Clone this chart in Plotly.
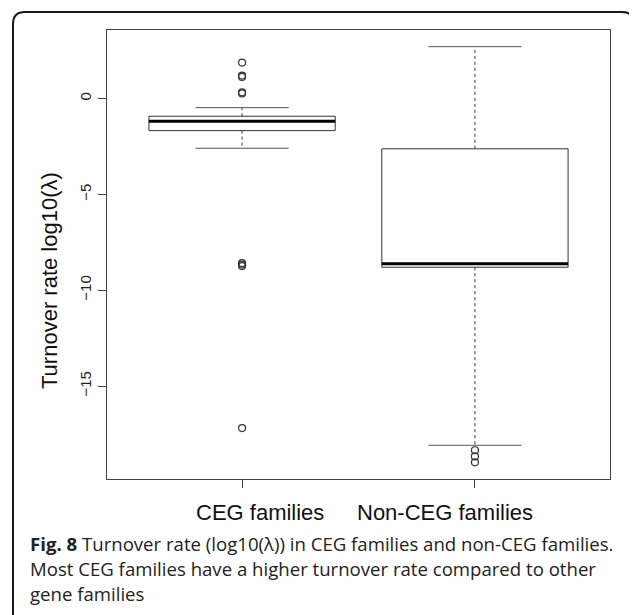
import plotly.graph_objects as go

# ---------------- data ----------------
categories = ["CEG families", "Non-CEG families"]
positions = [1, 2]
q1 = [-1.67, -8.80]
median = [-1.18, -8.62]
q3 = [-0.92, -2.62]
lower_whisker = [-2.59, -18.09]
upper_whisker = [-0.47, 2.71]
outliers_ceg = [1.88, 1.20, 1.13, 0.33, 0.27, -8.58, -8.66, -8.74, -17.19]
outliers_non = [-18.35, -18.67, -18.98]
y_ticks = [-15, -10, -5, 0]
y_tick_labels = ["\u221215", "\u221210", "\u22125", "0"]
y_title = "Turnover rate log10(\u03bb)"
caption_lines = [
    "<b>Fig. 8</b> Turnover rate (log10(\u03bb)) in CEG families and non-CEG families.",
    "Most CEG families have a higher turnover rate compared to other",
    "gene families",
]

# ---------------- layout constants ----------------
OFF = 8  # page body margin
W, H = 637 - OFF, 615 - OFF
ML, MT = 107 - OFF, 30 - OFF
MR = W - (610 - OFF)
MB = H - (479 - OFF)
PW, PH = W - ML - MR, H - MT - MB
BOX_HALF = 0.4
CAP_HALF = 0.2
LINE_COL = "#333333"


def px(xp):
    """reference-window pixel x -> paper fraction"""
    return (xp - OFF - ML) / PW


def py(yp):
    """reference-window pixel y -> paper fraction"""
    return (H - MB - (yp - OFF)) / PH


fig = go.Figure()

outliers = [outliers_ceg, outliers_non]
for i, c in enumerate(positions):
    # dashed whiskers
    for a, b in [(q3[i], upper_whisker[i]), (q1[i], lower_whisker[i])]:
        fig.add_trace(go.Scatter(x=[c, c], y=[a, b], mode="lines",
                                 line=dict(color=LINE_COL, width=1, dash="3px,3px"),
                                 hoverinfo="skip", showlegend=False))
    # caps
    for v in [upper_whisker[i], lower_whisker[i]]:
        fig.add_trace(go.Scatter(x=[c - CAP_HALF, c + CAP_HALF], y=[v, v], mode="lines",
                                 line=dict(color="#555555", width=1),
                                 hoverinfo="skip", showlegend=False))
    # box
    fig.add_trace(go.Scatter(x=[c - BOX_HALF, c + BOX_HALF, c + BOX_HALF, c - BOX_HALF, c - BOX_HALF],
                             y=[q1[i], q1[i], q3[i], q3[i], q1[i]], mode="lines",
                             fill="toself", fillcolor="white",
                             line=dict(color=LINE_COL, width=1),
                             hoverinfo="skip", showlegend=False))
    # median
    fig.add_trace(go.Scatter(x=[c - BOX_HALF, c + BOX_HALF], y=[median[i], median[i]], mode="lines",
                             line=dict(color="black", width=3),
                             hoverinfo="skip", showlegend=False))
    # outliers
    fig.add_trace(go.Scatter(x=[c] * len(outliers[i]), y=outliers[i], mode="markers",
                             marker=dict(symbol="circle-open", size=7, color=LINE_COL,
                                         line=dict(width=1.2, color=LINE_COL)),
                             hoverinfo="skip", showlegend=False))

axis_common = dict(showgrid=False, zeroline=False, showline=True, mirror=True,
                   linecolor="#444444", linewidth=1, ticks="outside", ticklen=8,
                   tickcolor="#444444", tickwidth=1)

fig.update_xaxes(range=[0.42, 2.58], tickvals=positions, ticktext=["", ""], **axis_common)
fig.update_yaxes(range=[-19.85, 3.58], tickvals=y_ticks, ticktext=y_tick_labels,
                 tickangle=-90, ticklabelstandoff=1,
                 tickfont=dict(family="Liberation Sans, Arial", size=15, color="#222222"),
                 **axis_common)

annotations = []
# category labels
for label, xc in zip(categories, [259.5, 444.5]):
    annotations.append(dict(text=label, xref="paper", yref="paper", x=px(xc), y=py(512.5),
                            xanchor="center", yanchor="middle", showarrow=False,
                            font=dict(family="Liberation Sans, Arial", size=22, color="#111111")))
# y title
annotations.append(dict(text=y_title, xref="paper", yref="paper", x=px(49), y=py(281),
                        xanchor="center", yanchor="middle", textangle=-90, showarrow=False,
                        font=dict(family="Liberation Sans, Arial", size=22, color="#111111")))
# caption
for line, yc in zip(caption_lines, [543, 568, 593]):
    annotations.append(dict(text=line, xref="paper", yref="paper", x=px(28), y=py(yc),
                            xanchor="left", yanchor="middle", showarrow=False,
                            font=dict(family="Open Sans", size=18.6, color="#222222")))

# outer rounded frame (open at bottom)
L, T, R, B, r = 13, 12, 634, 640, 12
path = (f"M {px(L)},{py(B)} L {px(L)},{py(T + r)} Q {px(L)},{py(T)} {px(L + r)},{py(T)} "
        f"L {px(R - r)},{py(T)} Q {px(R)},{py(T)} {px(R)},{py(T + r)} L {px(R)},{py(B)}")
shapes = [dict(type="path", xref="paper", yref="paper", path=path,
               line=dict(color="#1a1a1a", width=2), fillcolor="rgba(0,0,0,0)", layer="above")]

fig.update_layout(width=W, height=H, margin=dict(l=ML, r=MR, t=MT, b=MB),
                  paper_bgcolor="white", plot_bgcolor="white",
                  annotations=annotations, shapes=shapes, showlegend=False)

fig.write_html("out.html")
